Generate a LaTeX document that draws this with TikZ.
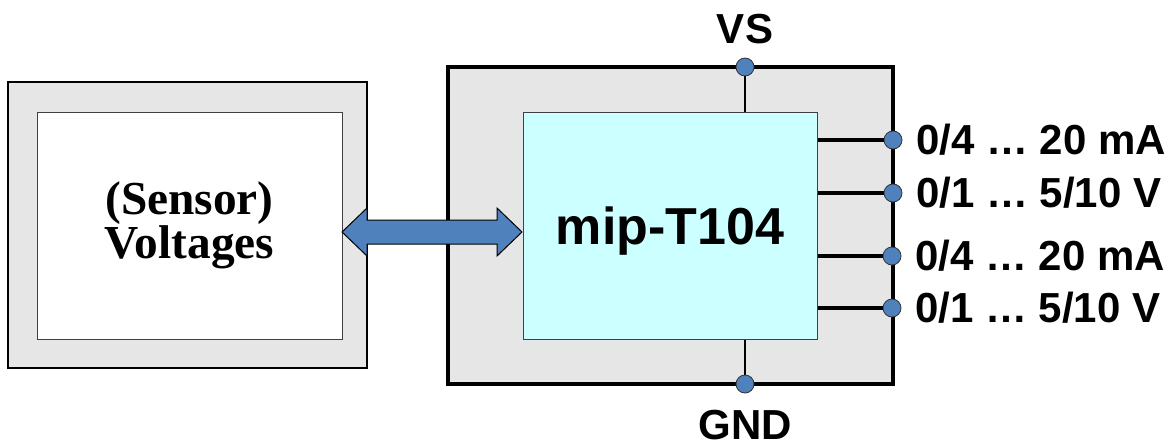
\documentclass[tikz,border=0pt]{standalone}
\usepackage{fontspec}
\setmainfont{Liberation Serif}
\setsansfont{Liberation Sans}
\usepackage{tikz}
\usetikzlibrary{positioning}
\definecolor{BGray}{RGB}{230,230,230}
\definecolor{BCyan}{RGB}{204,255,255}
\definecolor{BBlue}{RGB}{79,129,189}

\begin{document}
\begin{tikzpicture}[
    x=0.75pt, y=-0.75pt,
    outerbox/.style={
      draw,
      fill=BGray,
      inner sep=0pt
    },
    innerbox/.style={
      draw=black!75,
      line width=0.75pt,
      inner sep=0pt
    },
    pin/.style={
      circle,
      draw=black!80,
      fill=BBlue,
      line width=0.6pt,
      minimum size=13.5pt,
      inner sep=0pt
    },
    outlabel/.style={
      font=\sffamily\bfseries\fontsize{31.5}{36}\selectfont,
      inner sep=0pt
    },
    wire/.style={line width=2.6pt},
    bigarrow/.style={draw, fill=BBlue, line width=0.75pt, line join=miter}
  ]
    \useasboundingbox (0,0) rectangle (1173,446);

    \node[outerbox, line width=1.3pt, minimum width=269.25pt, minimum height=214.5pt] (sensorbox) at (187.5,225) {};
    \node[innerbox, fill=white, align=center, minimum width=228.75pt, minimum height=170.25pt,
      font=\bfseries\fontsize{35.5}{29.5}\selectfont] (sensor) at (189.5,225.5) {(Sensor)\\Voltages};

    \node[outerbox, line width=2.4pt, minimum width=333.75pt, minimum height=237.75pt] (mipbox) at (670.5,225.5) {};
    \node[innerbox, fill=BCyan, minimum width=220.5pt, minimum height=170.25pt, text depth=0pt,
      font=\sffamily\bfseries\fontsize{39}{44}\selectfont] (mip) at (670,225.5) {mip-T104};

    \node[pin] (vs) at (745,67) {};
    \node[pin] (gnd) at (745,384) {};
    \node[pin] (out1) at (893,140) {};
    \node[pin] (out2) at (893,193) {};
    \node[pin] (out3) at (892,256) {};
    \node[pin] (out4) at (892,308) {};

    \draw[line width=1.1pt] (vs) -- (vs |- mip.north);
    \draw[line width=1.1pt] (gnd) -- (gnd |- mip.south);
    \draw[wire] (mip.east |- out1) -- (out1);
    \draw[wire] (mip.east |- out2) -- (out2);
    \draw[wire] (mip.east |- out3) -- (out3);
    \draw[wire] (mip.east |- out4) -- (out4);

    \node[outlabel, above=9.75pt of vs] (vslabel) {VS};
    \node[outlabel, below=12.5pt of gnd] (gndlabel) {GND};
    \node[outlabel, right=10pt of out1] (label1) {0/4 … 20 mA};
    \node[outlabel, right=10pt of out2] (label2) {0/1 … 5/10 V};
    \node[outlabel, right=10pt of out3] (label3) {0/4 … 20 mA};
    \node[outlabel, right=10pt of out4] (label4) {0/1 … 5/10 V};

    % double arrow between sensor and module
    \coordinate (al) at (342,232);
    \coordinate (ar) at (522,232);
    \draw[bigarrow] (al) -- ++(25,-24) -- ++(0,12) -- ++(130,0) -- ++(0,-12) -- (ar)
      -- ++(-25,24) -- ++(0,-12) -- ++(-130,0) -- ++(0,12) -- cycle;
  \end{tikzpicture}
\end{document}
